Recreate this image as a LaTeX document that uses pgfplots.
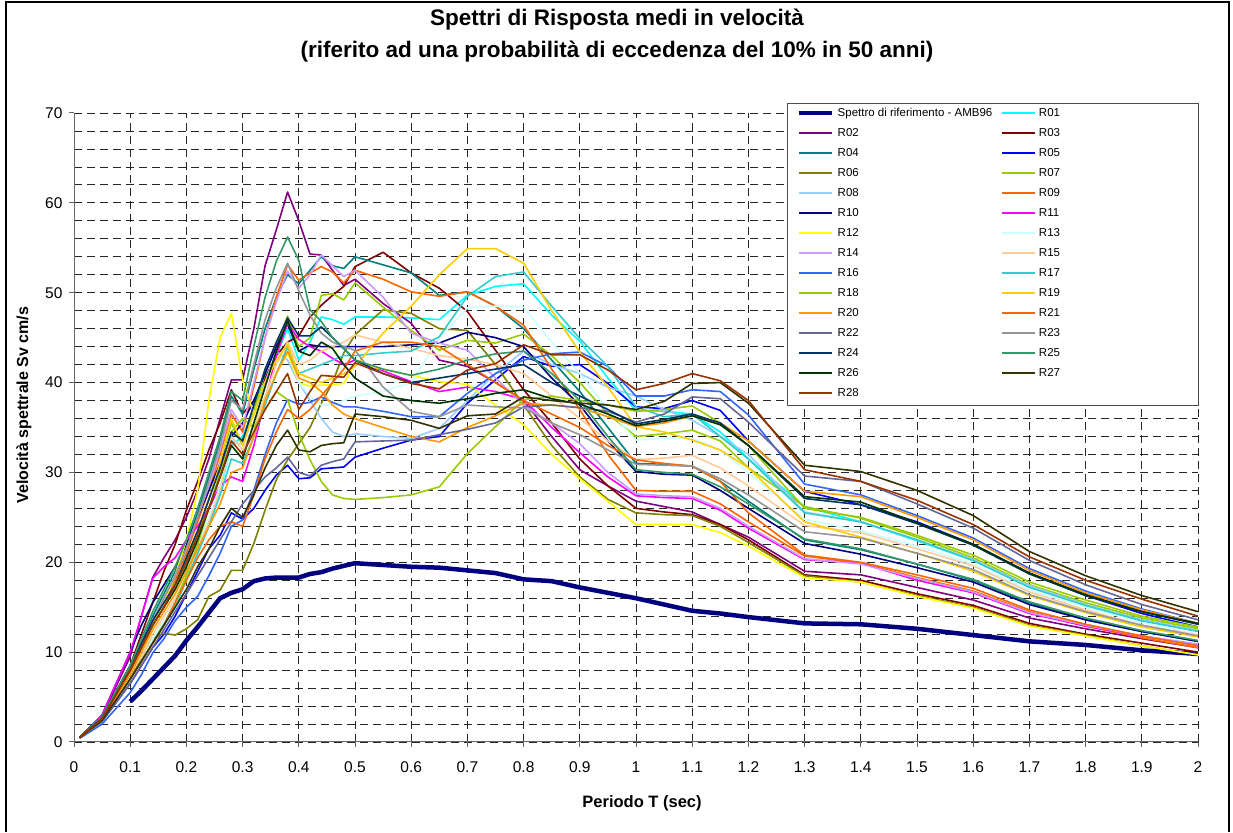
\documentclass[border=0pt]{standalone}
\usepackage{fontspec}
\setmainfont{Liberation Sans}
\usepackage{pgfplots}
\usepackage{pgfplotstable}
\pgfplotsset{compat=1.18}

% series colours
\definecolor{cRef}{RGB}{0,0,128}
\definecolor{cR01}{RGB}{0,255,255}
\definecolor{cR02}{RGB}{128,0,128}
\definecolor{cR03}{RGB}{128,0,0}
\definecolor{cR04}{RGB}{0,128,128}
\definecolor{cR05}{RGB}{0,0,255}
\definecolor{cR06}{RGB}{128,128,0}
\definecolor{cR07}{RGB}{153,204,0}
\definecolor{cR08}{RGB}{153,204,255}
\definecolor{cR09}{RGB}{255,102,0}
\definecolor{cR10}{RGB}{0,0,128}
\definecolor{cR11}{RGB}{255,0,255}
\definecolor{cR12}{RGB}{255,255,0}
\definecolor{cR13}{RGB}{204,255,255}
\definecolor{cR14}{RGB}{204,153,255}
\definecolor{cR15}{RGB}{255,204,153}
\definecolor{cR16}{RGB}{51,102,255}
\definecolor{cR17}{RGB}{51,204,204}
\definecolor{cR18}{RGB}{153,204,0}
\definecolor{cR19}{RGB}{255,204,0}
\definecolor{cR20}{RGB}{255,153,0}
\definecolor{cR21}{RGB}{255,102,0}
\definecolor{cR22}{RGB}{102,102,153}
\definecolor{cR23}{RGB}{150,150,150}
\definecolor{cR24}{RGB}{0,51,102}
\definecolor{cR25}{RGB}{51,153,102}
\definecolor{cR26}{RGB}{0,51,0}
\definecolor{cR27}{RGB}{51,51,0}
\definecolor{cR28}{RGB}{153,51,0}

% one row per spectrum, one column per period T (sec)
\pgfplotstableread[header=false]{
T   0.01 0.05 0.1  0.12 0.14 0.16 0.18 0.2  0.22 0.24 0.26 0.28 0.3  0.32 0.34 0.36 0.38 0.4  0.42 0.44 0.46 0.48 0.5  0.55 0.6  0.65 0.7  0.75 0.8  0.85 0.9  0.95 1.0  1.05 1.1  1.15 1.2  1.3  1.4  1.5  1.6  1.7  1.8  1.9  2.0
ref nan  nan  4.5  5.7  7.0  8.3  9.6  11.3 12.8 14.4 16.0 16.6 17.0 17.9 18.2 18.3 18.3 18.3 18.7 18.9 19.3 19.6 19.9 19.7 19.5 19.4 19.1 18.8 18.1 17.9 17.2 16.6 16.0 15.3 14.6 14.3 13.9 13.2 13.1 12.6 11.9 11.2 10.8 10.2 9.8
R01 0.5  2.6  7.5  9.5  11.5 13   15   18   21   24   28   33   34   37   40   43   46   42.5 44.5 47.3 47.0 46.5 47.3 47.3 47.2 47.0 49.7 50.7 51.0 47.5 44.6 40.5 36.9 36.8 36.5 34.5 31.5 26.2 24.5 22.4 20.2 17.3 15.2 13.5 12.4
R02 0.5  2.9  9.5  14   18.3 20.5 22.5 25   28   31.5 36   40.3 40.3 46   53   57   61.2 58   54.3 54.2 52.5 50.8 51.5 48.8 46.6 42.5 41.8 40   38   34   30.3 28.5 26.8 26.2 25.6 24.2 22.8 19.0 18.6 17.2 15.8 13.8 12.6 11.5 10.5
R03 0.5  2.8  8.5  12   15.5 19   22   25.8 29   32.5 35.5 39.2 36.5 38   40.5 43   44.5 45.2 47.3 48.6 49.7 50.7 52.9 54.5 52.2 50.5 47.9 43.6 39.2 35.5 31.5 28.5 26.0 25.6 25.3 24.2 22.5 18.6 18.0 16.5 15.2 13.2 12.0 11.0 10.0
R04 0.5  2.7  8.5  11   14   16.5 19   22   25.5 29.5 33.5 38.5 36.5 41.5 46   49.5 52   51   52.5 54.0 53   52.7 54.0 53.1 52.2 49.7 50.1 48.5 46.0 42.5 39.0 35.0 31.0 30.9 30.7 29.0 26.8 22.5 21.4 19.8 18.0 15.5 13.6 12.3 11.2
R05 0.5  2.3  6.5  8.5  10.5 12   14   16.5 19   21.5 23   25.5 24.8 26   28   29.7 30.8 29.3 29.4 30.4 30.5 30.6 31.7 32.7 33.6 34.0 37.7 40.3 42.9 41.8 42.0 39.9 37.3 37.1 38.0 36.9 33.5 27.9 26.4 24.5 22.0 18.8 16.3 14.3 12.8
R06 0.5  2.4  7    9.5  11.5 12.1 11.9 12.6 13.6 16.2 16.9 19.1 19.1 22.1 25.8 29.2 31.4 33.2 35   37.7 40   43.3 45.3 48.1 47.7 46.0 45.8 42   37.5 33   29.5 27   25.5 25.3 25.2 24   22.2 18.5 17.8 16.3 15.0 13.0 11.9 10.7 9.7
R07 0.5  2.6  8    10.5 13   15   17   20   23   27   31   35.5 33   37   41   44   47.4 44   45   49.7 49.9 49.2 51.1 48.4 45.8 43.6 44.7 44.4 45.4 43   40   36.5 34.0 34.3 34.7 33.5 30.5 26.2 24.9 22.8 20.5 17.5 15.5 13.8 12.6
R08 0.5  2.4  7    9    11.5 13.5 15.5 18   21   24.5 28.5 33.5 33   36.5 40   43.5 42.5 40   38   36   34.5 34.0 34.3 34.0 33.8 34.9 38   41   43.5 42   41   39.5 38.5 37   35.8 34   32   25.6 24.5 22.5 20.3 17.4 15.3 13.6 12.4
R09 0.5  2.6  8    10.5 13   15.5 18   21   24.5 28   32   36.5 34.5 39.5 45   49.5 53.1 51.4 52.2 52.9 52.3 51.1 52.5 51.5 50.1 49.6 50.1 48.5 46.4 41.5 37   32   28.0 27.9 27.9 26.5 24.5 20.7 19.9 18.3 16.8 14.5 12.9 11.6 10.5
R10 0.5  3.0  10   13   15.5 17.5 19.5 22   25   28   31   34   35.5 38   41   44   46.5 43.5 44.2 44.0 44.0 44.0 44.0 44.0 44.2 44.4 45.6 45.0 44.0 40.5 37.5 33.5 30.1 29.8 29.7 28.0 26.0 22.1 20.9 19.4 17.8 15.3 13.6 12.3 11.2
R11 0.5  3.0  10   14   18.2 19.5 20.5 22.5 24   26   28.5 29.5 29   33   38   43   46.6 44.8 44.0 43.5 42.7 42.0 42.5 41.3 40.1 39.0 39.5 39   38.1 35   32.2 29.5 27.4 27.2 27.1 25.8 23.8 20.3 19.9 18.0 16.6 14.3 12.9 11.8 10.8
R12 0.5  2.5  8    10.5 13   15.5 18.5 22.5 28   38   45   47.7 40.3 36.5 38   41   43.3 40   39.6 39.7 39.8 39.9 42.1 41.5 40.8 40.1 39.8 37.5 35.3 32   29.3 26.8 24.2 24.2 24.2 23.3 21.8 18.3 17.8 16.2 14.9 12.9 11.8 10.7 9.7
R13 0.5  2.4  7    9    11.5 13.5 16   19   22   25   28.5 33   33   35.5 38.5 41   44   40   38.5 37.5 37.5 38   38.5 39   40   45   48.3 48.5 48.4 44.5 41   37   33.6 33.8 33.8 32.5 30   24.8 23.5 21.8 19.8 16.9 15.0 13.3 12.0
R14 0.5  2.7  8.5  11   13.5 16   18.5 21.5 25   28.5 32.5 37   35   40   45   49   52.4 50.5 52   54.2 53   51.8 52.5 49.5 45.5 44.4 43.6 40.5 37.5 35.5 33.2 30   27.6 27.4 27.3 26   24   20.4 19.8 18.2 16.7 14.4 13.0 11.8 10.9
R15 0.5  2.5  7.5  9.5  12   14   16   18.5 21.5 24.5 28   34   32.5 35   38.5 42   44.5 42   42.5 43.5 44   44.5 45.3 44.5 43.8 43.0 42.6 42   41   38.5 36   33.5 31.4 31.6 31.9 30.5 28.5 24.1 23.3 21.5 19.6 16.7 14.7 13.0 11.9
R16 0.4  2.0  5.5  7.5  9.9  11.5 13.5 15   16.2 18.5 21   24   24.7 28   32   35.5 38.1 37.6 37.8 38.4 37.8 37.3 37.3 36.8 36.2 36.2 38.8 41   42.5 43.2 43.4 41.8 38.5 38.5 39.2 39.0 36.4 28.7 27.5 25.2 22.7 19.3 16.8 14.8 13.2
R17 0.5  2.3  7    9    11   13   15.5 18   21   24   27.5 31.5 31   34   37.5 41   44   41   41.5 42   42.5 43   43   43.3 43.5 45.1 49.6 51.8 52.3 48.5 44.9 41.8 37.3 36.2 36.5 34.0 31.5 25.5 24.5 22.5 20.2 17.2 15.2 13.5 12.3
R18 0.5  2.4  7    9    11   13   15.5 18.5 22   26   30   34.5 36   35   37   39   38.1 34.3 31.4 29   27.5 27.1 27.0 27.2 27.5 28.4 32.1 35.1 38.1 38.5 38.0 37.5 36.8 37.0 37.4 35.5 33   26.0 25.0 23.0 20.8 17.8 15.8 14.0 12.8
R19 0.5  2.6  8    10.5 13   15   17.5 20.5 23.5 27   31   36   33   36.5 40   42.5 44.2 41   40.5 40   40.5 41   41.8 45.5 48.5 52   54.9 54.9 53.3 48   43.4 39.5 35.1 34.5 33.6 32.5 30.5 24.5 22.8 21.0 19.0 16.3 14.4 12.8 11.7
R20 0.5  2.5  7.5  10   12.5 14.5 16.5 19   21.5 24   26.5 30   30.5 34   38   41   43.5 40.5 40   39   37.5 36.5 36   35   34.0 33.4 35   36.3 37.7 37.5 37.2 36.2 35.1 35.5 36.3 35.5 33.5 27.9 27.3 25.0 22.5 19.1 16.6 14.7 13.2
R21 0.5  2.4  7    9    11   13   15.5 18   20.5 22.5 24   24.5 24   27.5 31.5 34.5 37   36   37   38.5 40   41.5 43.5 44.5 44.5 44.0 42.0 40.0 38.0 36.5 35   33   31.4 31.0 30.7 29.0 25.5 20.8 20.0 18.6 17.1 14.7 13.1 11.8 10.7
R22 0.5  2.3  6.5  8.5  10.5 12.5 14.5 16.5 18.5 20.5 22.5 24.5 26.5 28   29.5 30.5 31.7 30   29.6 30.8 31.2 31.5 33.4 33.5 33.6 34.2 34.8 35.5 37.3 37.5 37.2 36.8 35.6 36.5 38.4 38.2 35.6 29.6 29.0 26.5 23.8 20.2 17.5 15.3 13.6
R23 0.5  2.7  8    10.5 13.5 16   18.5 21.5 25   29   33   38   37   42   47   50.5 53.3 50.2 47.5 45.5 44.5 44.0 43.6 39.5 36.8 36.2 37.5 37.3 37.2 35.5 34.2 32.5 30.9 30.8 30.7 29.3 27.5 23.4 22.7 21.0 19.2 16.4 14.5 13.0 11.8
R24 0.5  2.8  8.5  11   13.5 15.5 17.5 20.5 23.5 27   30.5 34.5 33.5 37.5 41.5 44.5 47.2 45.2 45.2 46.2 45   43.8 42.5 41   40   40.5 41   41.5 42   40   38.5 37   35.4 35.9 36.5 35.5 33.0 27.1 26.4 24.3 21.9 18.7 16.3 14.5 13.1
R25 0.5  2.8  8.5  11.5 14.5 17   19.5 22.5 26   30   34   39   38   44   49.5 53.5 56.2 53.6 48.1 46.8 45   43.8 42.5 41.5 40.8 41.5 42.5 43.2 43.5 41   38   34   30.3 30.0 29.8 28.4 26.5 22.6 21.5 19.8 18.1 15.6 13.8 12.4 11.3
R26 0.5  2.6  8    10.5 13   15   17   19.5 22.5 26   29.5 33   31.5 35.5 39.5 43.5 46.9 43.5 43   44.5 43.8 42   40.5 38.5 38.0 37.7 38.2 38.8 39.2 38.2 37.6 36.5 35.2 35.7 36.3 35.3 33.0 27.3 26.7 24.4 22.0 18.8 16.4 14.5 13.2
R27 0.5  2.4  7    9    11   13   15   17   19.5 21.5 24   26   25   27.5 30.5 33   34.7 32.5 32.3 33.0 33.2 33.3 36.5 36.2 35.8 34.9 36.3 36.5 38.4 38.0 37.7 37.5 37.0 37.9 39.9 40.0 37.7 30.8 30.1 28.0 25.2 21.2 18.5 16.3 14.5
R28 0.5  2.6  8    10.5 13   15   17.5 20   23   26   29.5 33.5 32   34.5 37   39   41   37.0 39   40.8 40.7 40.6 42.2 41   39.9 39.3 41.4 42.1 44.2 43.1 43.1 41.4 39.2 39.9 41.0 40.2 38.0 30.3 29.0 26.9 24.2 20.6 18.0 15.9 14.0
}\rowdata
\pgfplotstabletranspose[colnames from=0]\spectra\rowdata

\begin{document}
\begin{tikzpicture}[x=1pt,y=1pt]
\useasboundingbox (0,0) rectangle (1233,832);
% chart frame
\draw[line width=1.2pt] (6,0) -- (6,830) -- (1229,830) -- (1229,0);
% title
\node[font=\bfseries\fontsize{22.5}{26}\selectfont] at (617,812)
  {Spettri di Risposta medi in velocità};
\node[font=\bfseries\fontsize{22.5}{26}\selectfont] at (617,780)
  {(riferito ad una probabilità di eccedenza del 10\% in 50 anni)};
% axis titles
\node[font=\bfseries\fontsize{16}{19}\selectfont, rotate=90] at (24,427)
  {Velocità spettrale Sv cm/s};
\node[font=\bfseries\fontsize{16.5}{19}\selectfont] at (642,29)
  {Periodo T (sec)};

\begin{axis}[
  at={(74pt,90pt)}, anchor=south west,
  scale only axis, width=1124pt, height=629pt,
  xmin=0, xmax=2, ymin=0, ymax=70,
  clip=false,
  axis x line*=bottom, axis y line*=left,
  axis line style={black!60, line width=1pt, -},
  xtick={0,0.1,0.2,0.3,0.4,0.5,0.6,0.7,0.8,0.9,1,1.1,1.2,1.3,1.4,1.5,1.6,1.7,1.8,1.9,2},
  ytick={0,10,20,30,40,50,60,70},
  minor y tick num=4,
  tick align=outside,
  major tick length=5pt, minor tick length=0pt,
  tick style={black!60, line width=1pt},
  xmajorgrids, ymajorgrids, yminorgrids,
  major grid style={black!85, line width=0.8pt, dash pattern=on 8pt off 5pt},
  minor grid style={black!85, line width=0.8pt, dash pattern=on 8pt off 5pt},
  ticklabel style={font=\fontsize{15.5}{18}\selectfont},
  /pgf/number format/assume math mode=true,
  xticklabel style={yshift=-11pt, /pgf/number format/fixed, /pgf/number format/precision=1},
  yticklabel style={xshift=-3pt},
  no markers,
  every axis plot/.append style={line width=1.6pt, line join=round},
  legend columns=2,
  legend cell align=left,
  legend image code/.code={\draw[#1] (0pt,0pt) -- (33pt,0pt);},
  legend style={at={(0.64324,1.00954)}, anchor=north west,
    draw=none, fill=none, inner sep=0pt,
    font=\fontsize{11.5}{13}\selectfont,
    row sep=8pt,
    nodes={inner xsep=3pt, inner ysep=0pt, text height=9pt, text depth=3pt},
    /tikz/column 2/.style={column sep=6pt}},
]
\addplot[cRef, line width=4.5pt] table[x=T, y=ref] {\spectra};
\addlegendentry{Spettro di riferimento - AMB96}
\addplot[cR01] table[x=T, y=R01] {\spectra}; \addlegendentry{R01}
\addplot[cR02] table[x=T, y=R02] {\spectra}; \addlegendentry{R02}
\addplot[cR03] table[x=T, y=R03] {\spectra}; \addlegendentry{R03}
\addplot[cR04] table[x=T, y=R04] {\spectra}; \addlegendentry{R04}
\addplot[cR05] table[x=T, y=R05] {\spectra}; \addlegendentry{R05}
\addplot[cR06] table[x=T, y=R06] {\spectra}; \addlegendentry{R06}
\addplot[cR07] table[x=T, y=R07] {\spectra}; \addlegendentry{R07}
\addplot[cR08] table[x=T, y=R08] {\spectra}; \addlegendentry{R08}
\addplot[cR09] table[x=T, y=R09] {\spectra}; \addlegendentry{R09}
\addplot[cR10] table[x=T, y=R10] {\spectra}; \addlegendentry{R10}
\addplot[cR11] table[x=T, y=R11] {\spectra}; \addlegendentry{R11}
\addplot[cR12] table[x=T, y=R12] {\spectra}; \addlegendentry{R12}
\addplot[cR13] table[x=T, y=R13] {\spectra}; \addlegendentry{R13}
\addplot[cR14] table[x=T, y=R14] {\spectra}; \addlegendentry{R14}
\addplot[cR15] table[x=T, y=R15] {\spectra}; \addlegendentry{R15}
\addplot[cR16] table[x=T, y=R16] {\spectra}; \addlegendentry{R16}
\addplot[cR17] table[x=T, y=R17] {\spectra}; \addlegendentry{R17}
\addplot[cR18] table[x=T, y=R18] {\spectra}; \addlegendentry{R18}
\addplot[cR19] table[x=T, y=R19] {\spectra}; \addlegendentry{R19}
\addplot[cR20] table[x=T, y=R20] {\spectra}; \addlegendentry{R20}
\addplot[cR21] table[x=T, y=R21] {\spectra}; \addlegendentry{R21}
\addplot[cR22] table[x=T, y=R22] {\spectra}; \addlegendentry{R22}
\addplot[cR23] table[x=T, y=R23] {\spectra}; \addlegendentry{R23}
\addplot[cR24] table[x=T, y=R24] {\spectra}; \addlegendentry{R24}
\addplot[cR25] table[x=T, y=R25] {\spectra}; \addlegendentry{R25}
\addplot[cR26] table[x=T, y=R26] {\spectra}; \addlegendentry{R26}
\addplot[cR27] table[x=T, y=R27] {\spectra}; \addlegendentry{R27}
\addplot[cR28] table[x=T, y=R28] {\spectra}; \addlegendentry{R28}
% legend panel
\draw[fill=white, draw=black!70, line width=1pt]
  (rel axis cs:0.63434,1.01431) rectangle (rel axis cs:1,0.53418);
\end{axis}
\end{tikzpicture}
\end{document}
